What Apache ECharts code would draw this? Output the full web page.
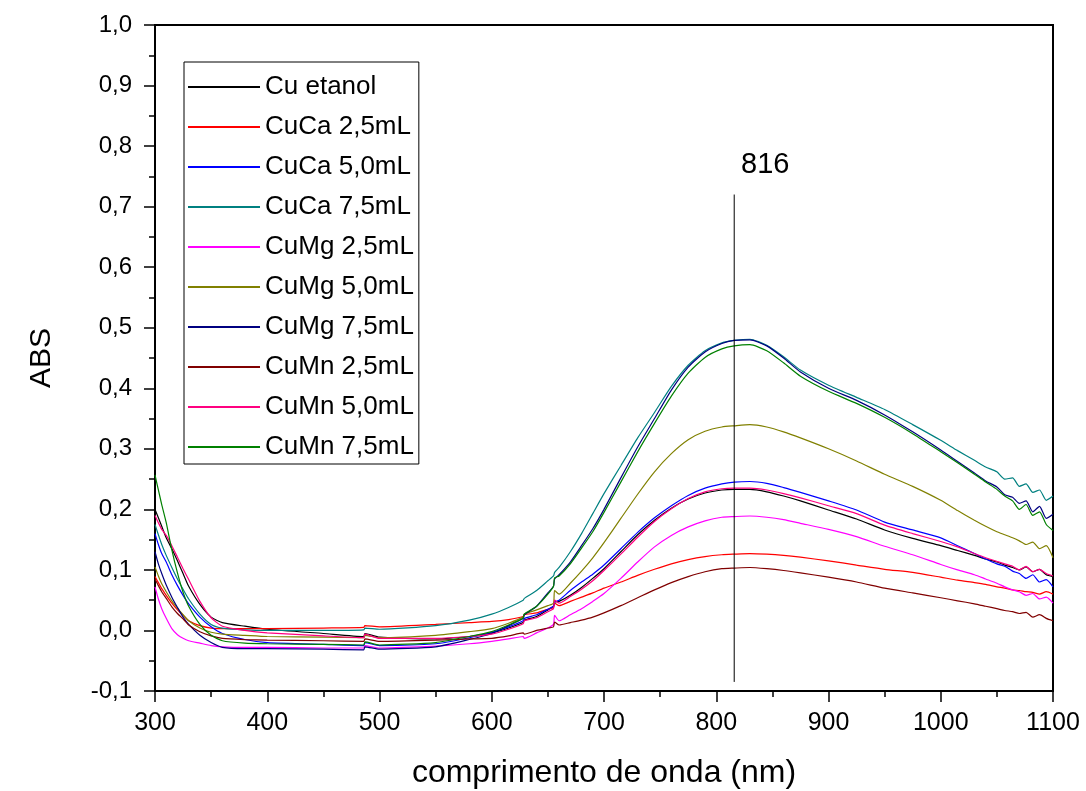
<!DOCTYPE html>
<html>
<head>
<meta charset="utf-8">
<title>ABS x comprimento de onda</title>
<script src="https://cdn.jsdelivr.net/npm/echarts@6/dist/echarts.min.js"></script>
<style>
  html, body { margin: 0; padding: 0; background: #fff; }
  #chart { width: 1086px; height: 791px; }
</style>
</head>
<body>
<div id="chart"></div>
<script>
// Wavelength grid (nm) shared by every spectrum
const wavelength = [
  300, 303, 306, 310, 315, 320, 325, 330,
  340, 350, 360, 380, 400,
  450, 486, 487, 500, 550,
  580, 600, 615, 628, 629,
  640, 650, 655, 656, 660,
  670, 680, 690, 700, 715,
  730, 745, 760, 775, 790,
  805, 816, 830, 845, 860,
  875, 900, 925, 950, 975,
  1000, 1015, 1030, 1040, 1050,
  1057, 1064, 1070, 1076, 1082,
  1088, 1094, 1100
];

// Absorbance of each sample at the wavelengths above
const cuEtanol = [
  0.200, 0.186, 0.172, 0.153, 0.135, 0.115, 0.094, 0.073,
  0.043, 0.022, 0.013, 0.007, 0.002,
  -0.005, -0.010, -0.005, -0.011, -0.014,
  -0.010, -0.004, 0.004, 0.013, 0.017,
  0.023, 0.034, 0.040, 0.047, 0.048,
  0.058, 0.071, 0.086, 0.102, 0.130,
  0.158, 0.182, 0.202, 0.217, 0.227,
  0.232, 0.233, 0.233, 0.229, 0.222,
  0.214, 0.199, 0.184, 0.166, 0.152,
  0.140, 0.132, 0.124, 0.118, 0.113,
  0.108, 0.104, 0.100, 0.105, 0.097,
  0.101, 0.092, 0.089
];
const cuCa25 = [
  0.089, 0.079, 0.069, 0.058, 0.045, 0.034, 0.025, 0.016,
  0.008, 0.004, 0.003, 0.003, 0.003,
  0.004, 0.005, 0.008, 0.006, 0.010,
  0.013, 0.015, 0.018, 0.023, 0.026,
  0.029, 0.035, 0.038, 0.045, 0.041,
  0.048, 0.055, 0.062, 0.070, 0.080,
  0.091, 0.101, 0.110, 0.117, 0.122,
  0.125, 0.126, 0.127, 0.126, 0.124,
  0.121, 0.115, 0.108, 0.101, 0.096,
  0.088, 0.083, 0.079, 0.076, 0.072,
  0.070, 0.067, 0.066, 0.064, 0.063,
  0.060, 0.064, 0.060
];
const cuCa50 = [
  0.160, 0.142, 0.127, 0.113, 0.092, 0.074, 0.058, 0.044,
  0.022, 0.006, -0.005, -0.015, -0.020,
  -0.023, -0.025, -0.020, -0.025, -0.022,
  -0.012, -0.003, 0.006, 0.016, 0.020,
  0.026, 0.035, 0.040, 0.047, 0.050,
  0.066, 0.080, 0.093, 0.108, 0.135,
  0.162, 0.186, 0.206, 0.223, 0.235,
  0.242, 0.245, 0.246, 0.243, 0.236,
  0.228, 0.214, 0.199, 0.179, 0.166,
  0.153, 0.140, 0.127, 0.118, 0.110,
  0.106, 0.098, 0.094, 0.086, 0.092,
  0.080, 0.084, 0.072
];
const cuCa75 = [
  0.175, 0.158, 0.142, 0.124, 0.104, 0.085, 0.068, 0.052,
  0.027, 0.010, 0.004, 0.001, 0.000,
  0.000, 0.001, 0.004, 0.002, 0.008,
  0.017, 0.027, 0.038, 0.050, 0.053,
  0.066, 0.082, 0.090, 0.096, 0.104,
  0.130, 0.160, 0.193, 0.226, 0.272,
  0.318, 0.360, 0.403, 0.438, 0.462,
  0.475, 0.479, 0.481, 0.471, 0.452,
  0.430, 0.405, 0.385, 0.365, 0.340,
  0.314, 0.297, 0.281, 0.270, 0.262,
  0.250, 0.252, 0.238, 0.242, 0.228,
  0.232, 0.215, 0.222
];
const cuMg25 = [
  0.072, 0.052, 0.036, 0.020, 0.003, -0.007, -0.013, -0.017,
  -0.021, -0.025, -0.027, -0.028, -0.028,
  -0.029, -0.029, -0.025, -0.029, -0.026,
  -0.022, -0.018, -0.014, -0.010, -0.013,
  -0.004, 0.004, 0.010, 0.025, 0.016,
  0.026, 0.036, 0.048, 0.061, 0.086,
  0.113, 0.138, 0.157, 0.171, 0.181,
  0.187, 0.188, 0.189, 0.187, 0.183,
  0.177, 0.167, 0.155, 0.139, 0.125,
  0.109, 0.100, 0.092, 0.085, 0.078,
  0.072, 0.067, 0.064, 0.058, 0.061,
  0.052, 0.055, 0.045
];
const cuMg50 = [
  0.105, 0.090, 0.077, 0.064, 0.049, 0.037, 0.026, 0.016,
  0.004, -0.003, -0.006, -0.008, -0.010,
  -0.011, -0.012, -0.008, -0.012, -0.008,
  -0.002, 0.003, 0.012, 0.022, 0.027,
  0.034, 0.041, 0.045, 0.066, 0.060,
  0.078, 0.098, 0.120, 0.145, 0.185,
  0.225, 0.262, 0.292, 0.315, 0.329,
  0.336, 0.338, 0.340, 0.336, 0.328,
  0.318, 0.300, 0.280, 0.258, 0.238,
  0.215, 0.198, 0.182, 0.172, 0.163,
  0.158, 0.153, 0.148, 0.142, 0.146,
  0.135, 0.140, 0.120
];
const cuMg75 = [
  0.130, 0.110, 0.094, 0.075, 0.055, 0.038, 0.022, 0.010,
  -0.008, -0.020, -0.028, -0.030, -0.030,
  -0.031, -0.032, -0.027, -0.031, -0.027,
  -0.015, -0.005, 0.008, 0.020, 0.026,
  0.040, 0.062, 0.073, 0.085, 0.092,
  0.113, 0.140, 0.168, 0.200, 0.252,
  0.303, 0.350, 0.397, 0.435, 0.460,
  0.474, 0.479, 0.480, 0.470, 0.450,
  0.427, 0.400, 0.380, 0.356, 0.328,
  0.298, 0.279, 0.260, 0.247, 0.237,
  0.224, 0.220, 0.210, 0.214, 0.196,
  0.205, 0.185, 0.192
];
const cuMn25 = [
  0.085, 0.074, 0.064, 0.053, 0.039, 0.028, 0.019, 0.009,
  -0.002, -0.009, -0.013, -0.015, -0.016,
  -0.017, -0.018, -0.014, -0.018, -0.016,
  -0.014, -0.013, -0.009, -0.004, -0.006,
  0.000, 0.004, 0.006, 0.014, 0.009,
  0.013, 0.017, 0.022, 0.029, 0.041,
  0.054, 0.067, 0.079, 0.089, 0.097,
  0.102, 0.103, 0.104, 0.102, 0.099,
  0.095, 0.088, 0.080, 0.070, 0.062,
  0.054, 0.049, 0.044, 0.040, 0.036,
  0.033, 0.031, 0.028, 0.030, 0.022,
  0.026, 0.020, 0.016
];
const cuMn50 = [
  0.190, 0.178, 0.167, 0.157, 0.140, 0.121, 0.102, 0.084,
  0.048, 0.021, 0.007, 0.000, -0.004,
  -0.009, -0.012, -0.006, -0.013, -0.013,
  -0.010, -0.006, 0.002, 0.011, 0.016,
  0.021, 0.031, 0.036, 0.050, 0.045,
  0.056, 0.068, 0.082, 0.099, 0.126,
  0.154, 0.180, 0.201, 0.218, 0.229,
  0.234, 0.235, 0.235, 0.232, 0.226,
  0.219, 0.206, 0.193, 0.174, 0.160,
  0.147, 0.138, 0.127, 0.120, 0.114,
  0.110, 0.106, 0.100, 0.106, 0.097,
  0.101, 0.094, 0.090
];
const cuMn75 = [
  0.257, 0.232, 0.208, 0.178, 0.133, 0.095, 0.063, 0.040,
  0.010, -0.008, -0.017, -0.021, -0.022,
  -0.023, -0.024, -0.019, -0.024, -0.020,
  -0.010, -0.002, 0.009, 0.020, 0.027,
  0.040, 0.060, 0.073, 0.087, 0.090,
  0.110, 0.136, 0.163, 0.195, 0.245,
  0.295, 0.342, 0.387, 0.425, 0.451,
  0.465, 0.470, 0.472, 0.462, 0.442,
  0.420, 0.395, 0.375, 0.352, 0.325,
  0.295, 0.277, 0.258, 0.245, 0.233,
  0.222, 0.214, 0.200, 0.208, 0.190,
  0.196, 0.175, 0.165
];

const seriesNames = [
  'Cu etanol', 'CuCa 2,5mL', 'CuCa 5,0mL', 'CuCa 7,5mL', 'CuMg 2,5mL',
  'CuMg 5,0mL', 'CuMg 7,5mL', 'CuMn 2,5mL', 'CuMn 5,0mL', 'CuMn 7,5mL'
];
const seriesValues = [cuEtanol, cuCa25, cuCa50, cuCa75, cuMg25, cuMg50, cuMg75, cuMn25, cuMn50, cuMn75];
const seriesColors = [
  '#000000', '#FF0000', '#0000FF', '#008080', '#FF00FF',
  '#808000', '#000080', '#800000', '#FF0080', '#008000'
];

// Peak marker: wavelength and the vertical extent of its guide line
const peakWavelength = 816;
const peakLineRange = [0.72, -0.085];

// Axis ranges and tick steps
const xRange = [300, 1100];
const xStep = 100;
const yRange = [-0.1, 1.0];
const yStep = 0.1;

const FONT = '"Liberation Sans", Arial, Helvetica, sans-serif';

const spectra = seriesNames.map((name, k) => ({
  name: name,
  type: 'line',
  data: wavelength.map((w, i) => [w, seriesValues[k][i]]),
  symbol: 'none',
  showSymbol: false,
  smooth: 0.2,
  lineStyle: { width: 1.2, color: seriesColors[k] },
  itemStyle: { color: seriesColors[k] },
  emphasis: { disabled: true },
  z: 2 + k
}));

const peakLine = {
  name: 'peak',
  type: 'line',
  data: [
    {
      value: [peakWavelength, peakLineRange[0]],
      label: {
        show: true,
        formatter: String(peakWavelength),
        position: 'top',
        offset: [31, -10],
        fontSize: 29,
        color: '#000',
        fontFamily: FONT
      }
    },
    [peakWavelength, peakLineRange[1]]
  ],
  symbol: 'circle',
  symbolSize: 0.1,
  showSymbol: true,
  itemStyle: { color: 'rgba(0,0,0,0)' },
  lineStyle: { width: 1, color: '#000' },
  emphasis: { disabled: true },
  z: 20
};

const chart = echarts.init(document.getElementById('chart'), null, { renderer: 'canvas' });

chart.setOption({
  animation: false,
  backgroundColor: '#ffffff',
  textStyle: { fontFamily: FONT, color: '#000' },
  grid: {
    left: 155, right: 33, top: 25, bottom: 100,
    outerBoundsMode: 'none',
    containLabel: false,
    show: true, borderColor: '#000', borderWidth: 2, backgroundColor: 'transparent'
  },
  legend: {
    data: seriesNames,
    orient: 'vertical',
    left: 184,
    top: 62,
    icon: 'rect',
    itemWidth: 72,
    itemHeight: 2,
    itemGap: 14,
    padding: [12, 5, 4, 4],
    borderColor: '#000',
    borderWidth: 1,
    backgroundColor: '#fff',
    selectedMode: false,
    textStyle: { fontSize: 26, lineHeight: 26, color: '#000', fontFamily: FONT }
  },
  xAxis: {
    type: 'value',
    min: xRange[0], max: xRange[1], interval: xStep,
    name: 'comprimento de onda (nm)',
    nameLocation: 'middle',
    nameGap: 66,
    nameTextStyle: { fontSize: 32, color: '#000', fontFamily: FONT },
    axisLine: { onZero: false, lineStyle: { color: '#000', width: 2 } },
    axisTick: { show: true, inside: false, length: 11, lineStyle: { color: '#000', width: 1.5 } },
    minorTick: { show: true, splitNumber: 2, length: 6, lineStyle: { color: '#000', width: 1.5 } },
    axisLabel: {
      fontSize: 25, color: '#000', margin: 20, fontFamily: FONT,
      formatter: v => String(v)
    },
    splitLine: { show: false },
    minorSplitLine: { show: false }
  },
  yAxis: {
    type: 'value',
    min: yRange[0], max: yRange[1], interval: yStep,
    name: 'ABS',
    nameLocation: 'middle',
    nameGap: 98,
    nameTextStyle: { fontSize: 30, color: '#000', fontFamily: FONT },
    axisLine: { onZero: false, lineStyle: { color: '#000', width: 2 } },
    axisTick: { show: true, inside: false, length: 11, lineStyle: { color: '#000', width: 1.5 } },
    minorTick: { show: true, splitNumber: 2, length: 6, lineStyle: { color: '#000', width: 1.5 } },
    axisLabel: {
      fontSize: 24, color: '#000', margin: 23, fontFamily: FONT,
      formatter: v => v.toFixed(1).replace('.', ',')
    },
    splitLine: { show: false },
    minorSplitLine: { show: false }
  },
  series: spectra.concat([peakLine])
});
</script>
</body>
</html>
